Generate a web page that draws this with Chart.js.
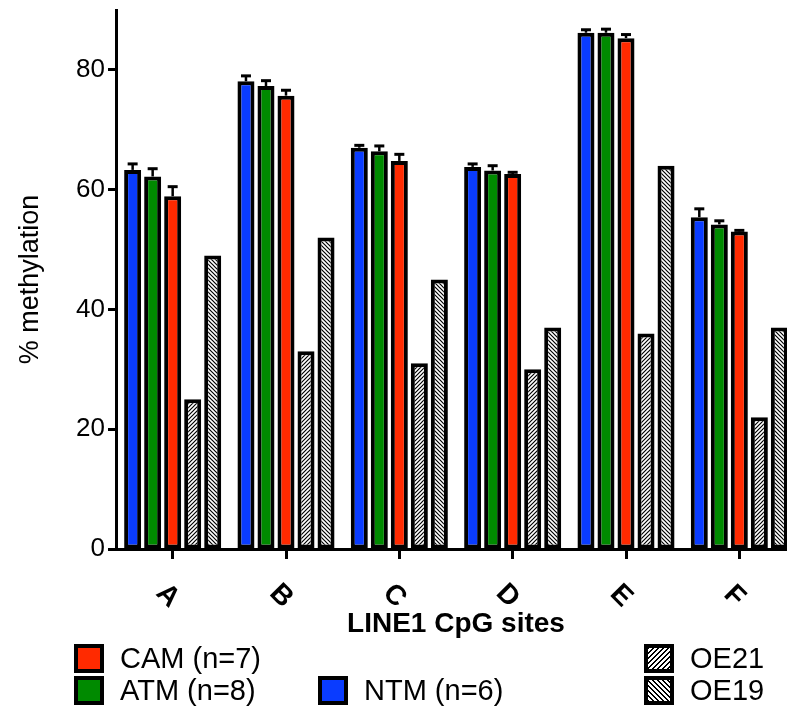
<!DOCTYPE html>
<html>
<head>
<meta charset="utf-8">
<script src="https://cdn.jsdelivr.net/npm/chart.js@4.4.1/dist/chart.umd.min.js"></script>
<style>
  body { margin: 0; background: #fff; font-family: "Liberation Sans", Arial, sans-serif; }
  #frame { position: relative; width: 787px; height: 709px; overflow: hidden; }
  #plot { position: absolute; left: 0; top: 0; width: 796px; height: 709px; }
  .key { position: absolute; display: flex; align-items: center; height: 30px; font-size: 29px; color: #000; white-space: nowrap; }
  .sw { box-sizing: border-box; width: 30px; height: 29px; border: 4px solid #000; margin-right: 16px; }
</style>
</head>
<body>
<div id="frame">
  <div id="plot"><canvas id="methChart"></canvas></div>
  <div class="key" style="left:74px; top:643px;"><span class="sw" style="background:#ff2a00"></span>CAM (n=7)</div>
  <div class="key" style="left:74px; top:675px;"><span class="sw" style="background:#008a00"></span>ATM (n=8)</div>
  <div class="key" style="left:318px; top:675px;"><span class="sw" style="background:#0a3cff"></span>NTM (n=6)</div>
  <div class="key" style="left:644px; top:643px;"><span class="sw" style="background:repeating-linear-gradient(135deg,#000 0 1.3px,#fff 1.3px 3.5px)"></span>OE21</div>
  <div class="key" style="left:644px; top:675px;"><span class="sw" style="background:repeating-linear-gradient(45deg,#000 0 1.3px,#fff 1.3px 3.5px)"></span>OE19</div>
</div>
<script>
const sites = ['A', 'B', 'C', 'D', 'E', 'F'];

const ntm    = [63.3, 78.1, 67.0, 63.8, 86.2, 55.4];
const ntmErr = [1.0, 0.9, 0.4, 0.5, 0.5, 1.4];
const atm    = [62.2, 77.3, 66.4, 63.2, 86.2, 54.2];
const atmErr = [1.3, 0.9, 0.9, 0.8, 0.6, 0.6];
const cam    = [58.9, 75.7, 64.8, 62.6, 85.3, 53.0];
const camErr = [1.6, 0.9, 1.1, 0.3, 0.6, 0.2];
const oe21   = [25, 33, 31, 30, 36, 22];
const oe19   = [49, 52, 45, 37, 64, 37];

const yTicks = [0, 20, 40, 60, 80];

// diagonal hatch fill; dir 1 = "/" , -1 = "\"
function hatch(dir) {
    const s = 4;
    const c = document.createElement('canvas');
    c.width = s; c.height = s;
    const g = c.getContext('2d');
    g.fillStyle = '#fff';
    g.fillRect(0, 0, s, s);
    g.strokeStyle = '#000';
    g.lineWidth = 1.2;
    g.beginPath();
    if (dir > 0) {
        g.moveTo(-1, s + 1); g.lineTo(s + 1, -1);
        g.moveTo(-1, 1); g.lineTo(1, -1);
        g.moveTo(s - 1, s + 1); g.lineTo(s + 1, s - 1);
    } else {
        g.moveTo(-1, -1); g.lineTo(s + 1, s + 1);
        g.moveTo(s - 1, -1); g.lineTo(s + 1, 1);
        g.moveTo(-1, s - 1); g.lineTo(1, s + 1);
    }
    g.stroke();
    return g.createPattern(c, 'repeat');
}

// upward SEM whiskers on top of the bars
const errorBars = {
    id: 'errorBars',
    afterDatasetsDraw(chart) {
        const { ctx, scales: { y } } = chart;
        ctx.save();
        ctx.strokeStyle = '#000';
        chart.data.datasets.forEach((ds, i) => {
            if (!ds.errors) return;
            chart.getDatasetMeta(i).data.forEach((bar, j) => {
                const top = y.getPixelForValue(ds.data[j] + ds.errors[j]);
                ctx.lineWidth = 2.5;
                ctx.beginPath();
                ctx.moveTo(bar.x, bar.y);
                ctx.lineTo(bar.x, top);
                ctx.stroke();
                ctx.lineWidth = 3;
                ctx.beginPath();
                ctx.moveTo(bar.x - 5, top);
                ctx.lineTo(bar.x + 5, top);
                ctx.stroke();
            });
        });
        ctx.restore();
    }
};

// category letters, turned 45 degrees clockwise under each tick
const slantedLabels = {
    id: 'slantedLabels',
    afterDraw(chart) {
        const { ctx, chartArea, scales: { x } } = chart;
        ctx.save();
        ctx.font = 'bold 28px "Liberation Sans", Arial, sans-serif';
        ctx.fillStyle = '#000';
        ctx.textAlign = 'center';
        ctx.textBaseline = 'middle';
        sites.forEach((s, i) => {
            ctx.save();
            ctx.translate(x.getPixelForTick(i) - 5, chartArea.bottom + 47);
            ctx.rotate(Math.PI / 4);
            ctx.fillText(s, 0, 0);
            ctx.restore();
        });
        ctx.restore();
    }
};

const barStyle = { borderColor: '#000', borderWidth: 4, borderSkipped: false };

new Chart(document.getElementById('methChart'), {
    type: 'bar',
    data: {
        labels: sites,
        datasets: [
            { label: 'NTM (n=6)', data: ntm, errors: ntmErr, backgroundColor: '#0a3cff', ...barStyle },
            { label: 'ATM (n=8)', data: atm, errors: atmErr, backgroundColor: '#008a00', ...barStyle },
            { label: 'CAM (n=7)', data: cam, errors: camErr, backgroundColor: '#ff2a00', ...barStyle },
            { label: 'OE21', data: oe21, backgroundColor: hatch(1), ...barStyle },
            { label: 'OE19', data: oe19, backgroundColor: hatch(-1), ...barStyle }
        ]
    },
    options: {
        responsive: true,
        maintainAspectRatio: false,
        animation: false,
        categoryPercentage: 0.883,
        barPercentage: 0.85,
        layout: { padding: { top: 10, left: 0, right: 0, bottom: 0 } },
        plugins: { legend: { display: false }, tooltip: { enabled: false } },
        scales: {
            x: {
                offset: true,
                grid: { offset: false, drawOnChartArea: false, drawTicks: true, tickLength: 10, tickWidth: 3, tickColor: '#000' },
                border: { color: '#000', width: 3 },
                ticks: { display: false },
                title: {
                    display: true,
                    text: 'LINE1 CpG sites',
                    color: '#000',
                    font: { family: '"Liberation Sans", Arial, sans-serif', size: 28, weight: 'bold' },
                    padding: { top: 0, bottom: 68 }
                },
                afterFit(scale) { scale.height = 160; scale.paddingLeft = 0; scale.paddingRight = 0; }
            },
            y: {
                min: 0,
                max: 90,
                afterBuildTicks(scale) { scale.ticks = yTicks.map(v => ({ value: v })); },
                ticks: { color: '#000', padding: 3, font: { family: '"Liberation Sans", Arial, sans-serif', size: 26 } },
                grid: { drawOnChartArea: false, tickLength: 8, tickWidth: 3, tickColor: '#000' },
                border: { color: '#000', width: 3 },
                title: {
                    display: true,
                    text: '% methylation',
                    color: '#000',
                    font: { family: '"Liberation Sans", Arial, sans-serif', size: 27 },
                    padding: { top: 14 }
                },
                afterFit(scale) { scale.width = 116; scale.paddingTop = 0; scale.paddingBottom = 0; }
            }
        }
    },
    plugins: [errorBars, slantedLabels]
});
</script>
</body>
</html>
